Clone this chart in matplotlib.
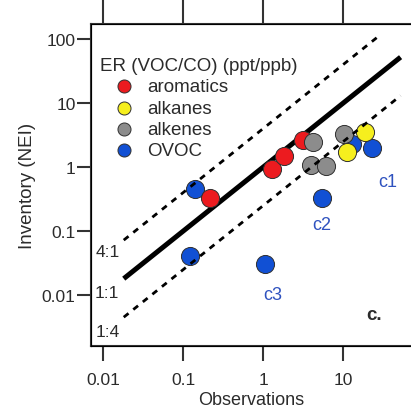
import numpy as np
import matplotlib.pyplot as plt
from matplotlib.ticker import FixedLocator, FixedFormatter, NullLocator

plt.rcParams['font.family'] = ['Liberation Sans', 'DejaVu Sans']

# emission ratios, observations vs inventory
aro_x = [0.215, 1.30, 1.81, 3.13]
aro_y = [0.33, 0.94, 1.48, 2.6]
alk_x = [18.5, 11.2]
alk_y = [3.58, 1.71]
ene_x = [4.22, 3.98, 6.0, 10.2]
ene_y = [2.45, 1.06, 1.04, 3.3]
ovoc_x = [0.139, 0.12, 1.04, 5.36, 22.6, 12.9]
ovoc_y = [0.46, 0.041, 0.030, 0.33, 2.0, 2.3]

ratio_names = ['4:1', '1:1', '1:4']
ratios = [4.0, 1.0, 0.25]
ratio_end = [26.5, 52, 52]

xticks = [0.01, 0.1, 1, 10]
xlabels = ['0.01', '0.1', '1', '10']
yticks = [0.01, 0.1, 1, 10, 100]
ylabels = ['0.01', '0.1', '1', '10', '100']

W, H = 411, 414
fig = plt.figure(figsize=(W/100, H/100), dpi=100)
ax = fig.add_axes([91/W, 1-347/H, (W-91)/W, (347-25)/H])
ax.set_xscale('log')
ax.set_yscale('log')
ax.set_xlim(10**-2.154, 10**(1+(411-343.3)/80))
ax.set_ylim(10**-2.797, 10**2.234)

dark = '#2b2b2b'
ec = '#303030'
ms = 170
ax.scatter(ovoc_x, ovoc_y, s=ms, color='#1150d4', edgecolors=ec, linewidths=0.7, zorder=3, label='OVOC')
ax.scatter(aro_x, aro_y, s=ms, color='#ec1b1f', edgecolors=ec, linewidths=0.7, zorder=4, label='aromatics')
ax.scatter(ene_x, ene_y, s=ms, color='#8c8c8c', edgecolors=ec, linewidths=0.7, zorder=5, label='alkenes')
ax.scatter(alk_x, alk_y, s=ms, color='#f6ef1e', edgecolors=ec, linewidths=0.7, zorder=6, label='alkanes')

for name, r, xe in zip(ratio_names, ratios, ratio_end):
    xx = np.array([0.018, xe])
    if r == 1.0:
        ax.plot(xx, r*xx, color='black', lw=3.6, solid_capstyle='butt', zorder=2)
    else:
        ax.plot(xx, r*xx, color='black', lw=2.0, dashes=(2.2, 2.2), zorder=7)

ax.text(0.0112, 0.047, '4:1', fontsize=12.5, color=dark, ha='center', va='center')
ax.text(0.0112, 0.0111, '1:1', fontsize=12.5, color=dark, ha='center', va='center')
ax.text(0.0112, 0.00272, '1:4', fontsize=12.5, color=dark, ha='center', va='center')

blue_txt = '#2f52bf'
ax.text(35.5, 0.6, 'c1', fontsize=13, color=blue_txt, ha='center', va='center')
ax.text(5.36, 0.127, 'c2', fontsize=13, color=blue_txt, ha='center', va='center')
ax.text(1.32, 0.0101, 'c3', fontsize=13, color=blue_txt, ha='center', va='center')
ax.text(24.5, 0.005, 'c.', fontsize=13.5, color=dark, ha='center', va='center', fontweight='bold')

h, l = ax.get_legend_handles_labels()
order = [1, 3, 2, 0]
leg = ax.legend([h[i] for i in order], [l[i] for i in order],
                title='ER (VOC/CO) (ppt/ppb)', loc='upper left',
                bbox_to_anchor=(100/W, 1-58/H), bbox_transform=fig.transFigure,
                frameon=False, fontsize=13.5, title_fontsize=13.5,
                markerscale=0.72, handlelength=2.6, handletextpad=-0.1,
                labelspacing=0.22, borderpad=0, borderaxespad=0, alignment='left')
for t in leg.get_texts():
    t.set_color(dark)
leg.get_title().set_color(dark)

for sp in ['left', 'bottom', 'top']:
    ax.spines[sp].set_linewidth(1.5)
    ax.spines[sp].set_color('#333333')
ax.spines['right'].set_visible(False)

ax.xaxis.set_major_locator(FixedLocator(xticks))
ax.xaxis.set_major_formatter(FixedFormatter(xlabels))
ax.yaxis.set_major_locator(FixedLocator(yticks))
ax.yaxis.set_major_formatter(FixedFormatter(ylabels))
ax.xaxis.set_minor_locator(NullLocator())
ax.yaxis.set_minor_locator(NullLocator())
ax.tick_params(axis='x', direction='out', length=10.5, width=1.5, color='#333333',
               labelsize=12.5, labelcolor=dark, pad=8)
ax.tick_params(axis='y', direction='out', length=10, width=1.5, color='#333333',
               labelsize=12.5, labelcolor=dark, pad=1)

ax2 = ax.twiny()
ax2.set_xscale('log')
ax2.set_xlim(ax.get_xlim())
ax2.xaxis.set_major_locator(FixedLocator(xticks))
ax2.xaxis.set_minor_locator(NullLocator())
ax2.tick_params(axis='x', direction='out', length=19, width=1.5, color='#333333', labeltop=False)
ax2.spines['right'].set_visible(False)

ax.set_xlabel('Observations', fontsize=13, color=dark, labelpad=3)
ax.set_ylabel('Inventory (NEI)', fontsize=13.5, color=dark, labelpad=4)

fig.savefig('out.png', dpi=100)
